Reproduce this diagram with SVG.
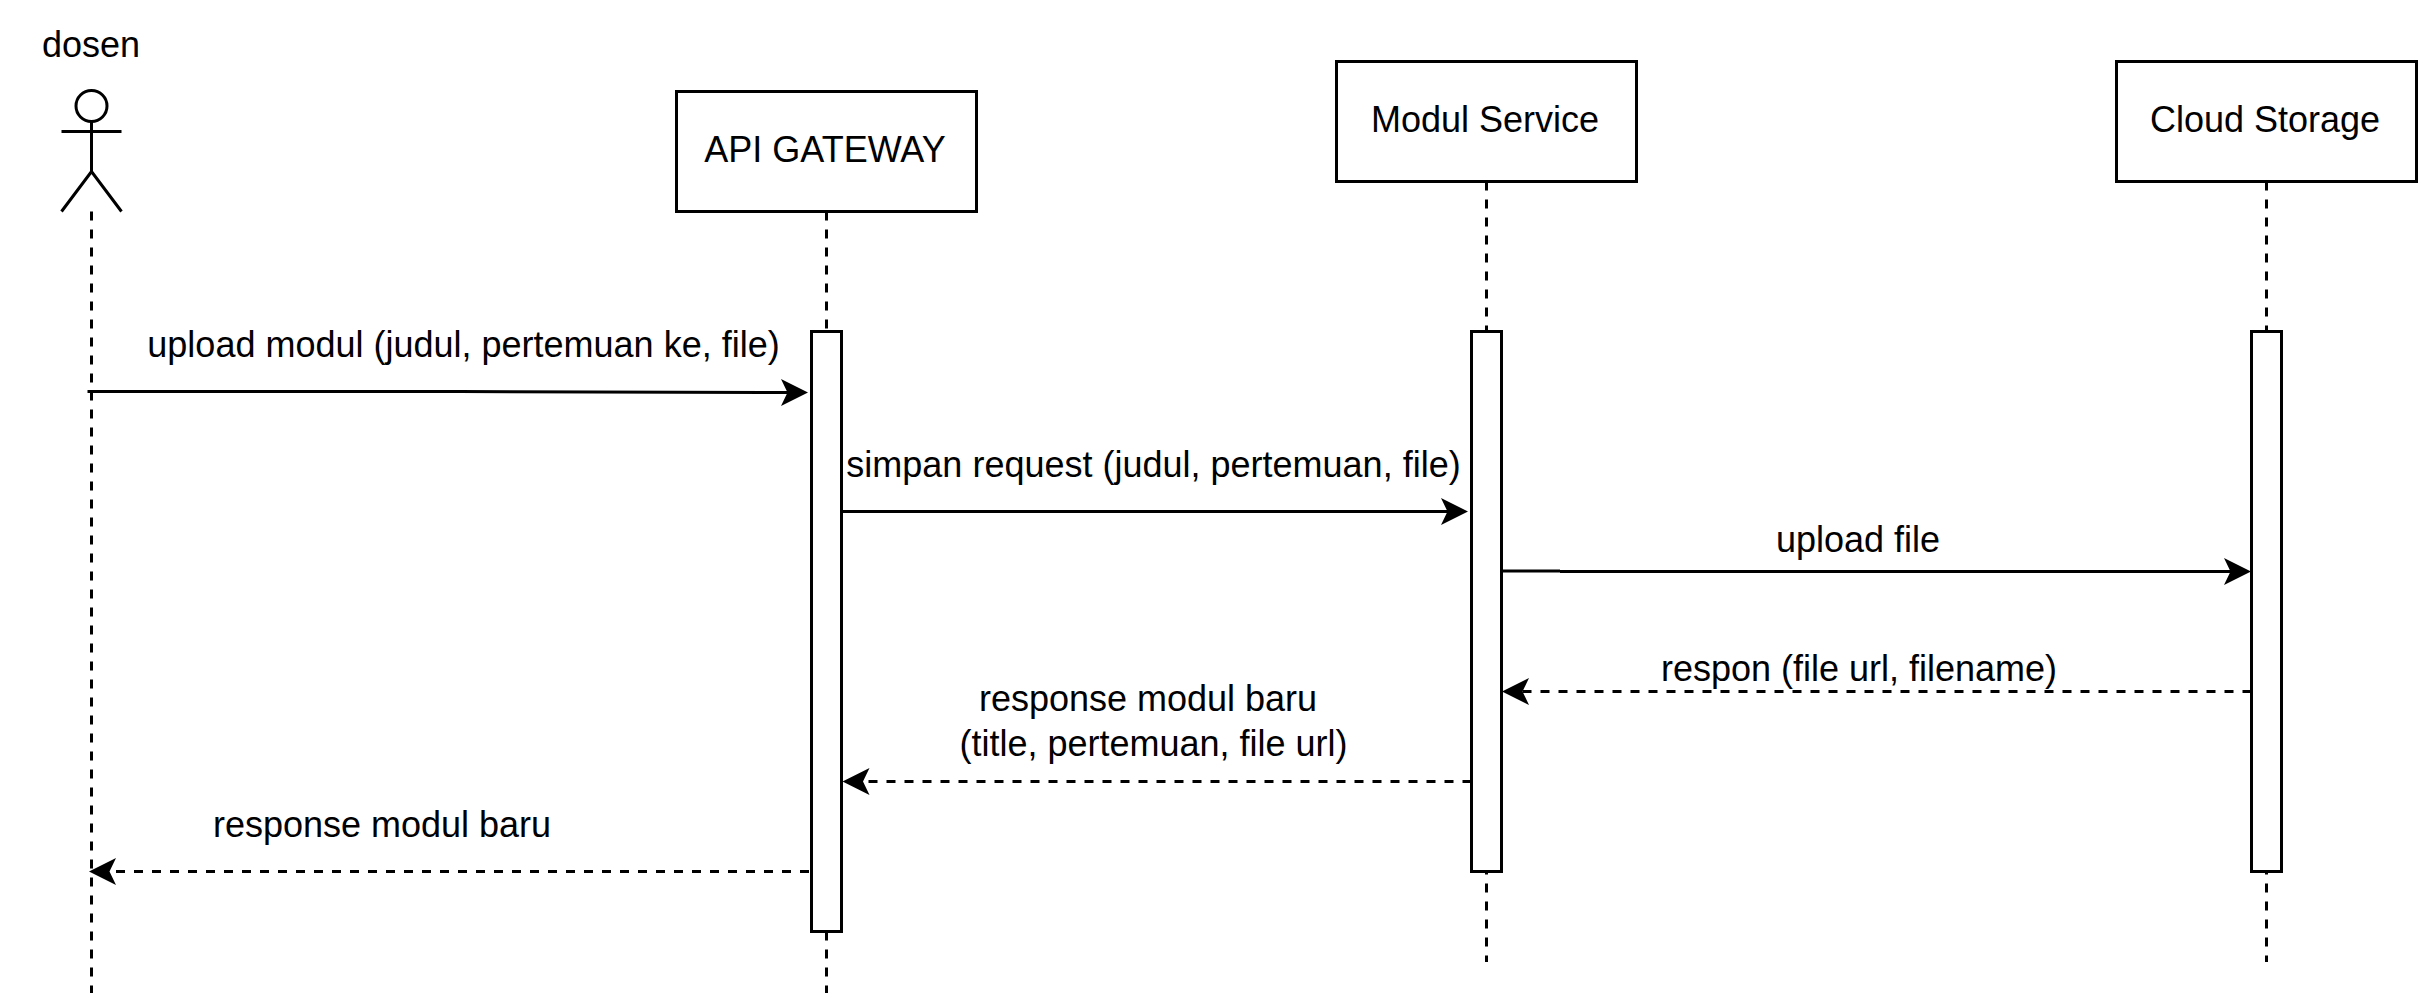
<svg xmlns="http://www.w3.org/2000/svg" width="2418" height="993" viewBox="0 0 2418 993">
<style>
text{font-family:"Liberation Sans",Arial,sans-serif;font-size:36px;fill:#000;text-anchor:middle}
.box{fill:#fff;stroke:#000;stroke-width:3}
.bar{fill:#fff;stroke:#000;stroke-width:3}
.life{fill:none;stroke:#000;stroke-width:3;stroke-dasharray:9 9}
.msg{fill:none;stroke:#000;stroke-width:3}
.ret{fill:none;stroke:#000;stroke-width:3;stroke-dasharray:9 9}
.fig{fill:none;stroke:#000;stroke-width:3}
</style>
<defs>
<path id="ar" d="M0 0L-27 -13.500L-20.500 0L-27 13.500Z" fill="#000"/>
</defs>
<rect width="2418" height="993" fill="#fff"/>
<g id="connectors">
<path class="life" d="M91.500 211.500V993"/>
<path class="life" d="M826.500 211.500V993"/>
<path class="life" d="M1486.500 181.500V962"/>
<path class="life" d="M2266.500 181.500V962"/>
<path class="msg" d="M87.500 391.500H460L790 392.500"/>
<use href="#ar" x="808" y="392.500"/>
<path class="msg" d="M842 511.500H1450"/>
<use href="#ar" x="1468" y="511.500"/>
<path class="msg" d="M1501 571H1560M1560 571.500H2235"/>
<use href="#ar" x="2251" y="571.500"/>
<path class="ret" d="M2251.500 691.500H1520"/>
<use href="#ar" transform="translate(1502 691.500) scale(-1 1)"/>
<path class="ret" d="M1471.500 781.500H860"/>
<use href="#ar" transform="translate(842.500 781.500) scale(-1 1)"/>
<path class="ret" d="M809 871.500H105"/>
<use href="#ar" transform="translate(89 871.500) scale(-1 1)"/>
</g>
<g id="actor-dosen">
<circle class="fig" cx="91.500" cy="106" r="15.500"/>
<path class="fig" d="M91.500 121.500V171.500M61.500 131.500H121.500M61.500 211.500L91.500 171.500L121.500 211.500"/>
<text x="91" y="57">dosen</text>
</g>
<g id="node-api-gateway">
<rect class="box" x="676.500" y="91.500" width="300" height="120"/>
<text x="825" y="161.500">API GATEWAY</text>
</g>
<g id="node-modul-service">
<rect class="box" x="1336.500" y="61.500" width="300" height="120"/>
<text x="1485" y="131.500">Modul Service</text>
</g>
<g id="node-cloud-storage">
<rect class="box" x="2116.500" y="61.500" width="300" height="120"/>
<text x="2265" y="131.500">Cloud Storage</text>
</g>
<g id="activation-api"><rect class="bar" x="811.500" y="331.500" width="30" height="600"/></g>
<g id="activation-modul"><rect class="bar" x="1471.500" y="331.500" width="30" height="540"/></g>
<g id="activation-cloud"><rect class="bar" x="2251.500" y="331.500" width="30" height="540"/></g>
<g id="labels">
<text x="463.500" y="357">upload modul (judul, pertemuan ke, file)</text>
<text x="1153.500" y="477">simpan request (judul, pertemuan, file)</text>
<text x="1858" y="552">upload file</text>
<text x="1859" y="681">respon (file url, filename)</text>
<text x="1148" y="711">response modul baru</text>
<text x="1153.500" y="756">(title, pertemuan, file url)</text>
<text x="382" y="837">response modul baru</text>
</g>
</svg>
